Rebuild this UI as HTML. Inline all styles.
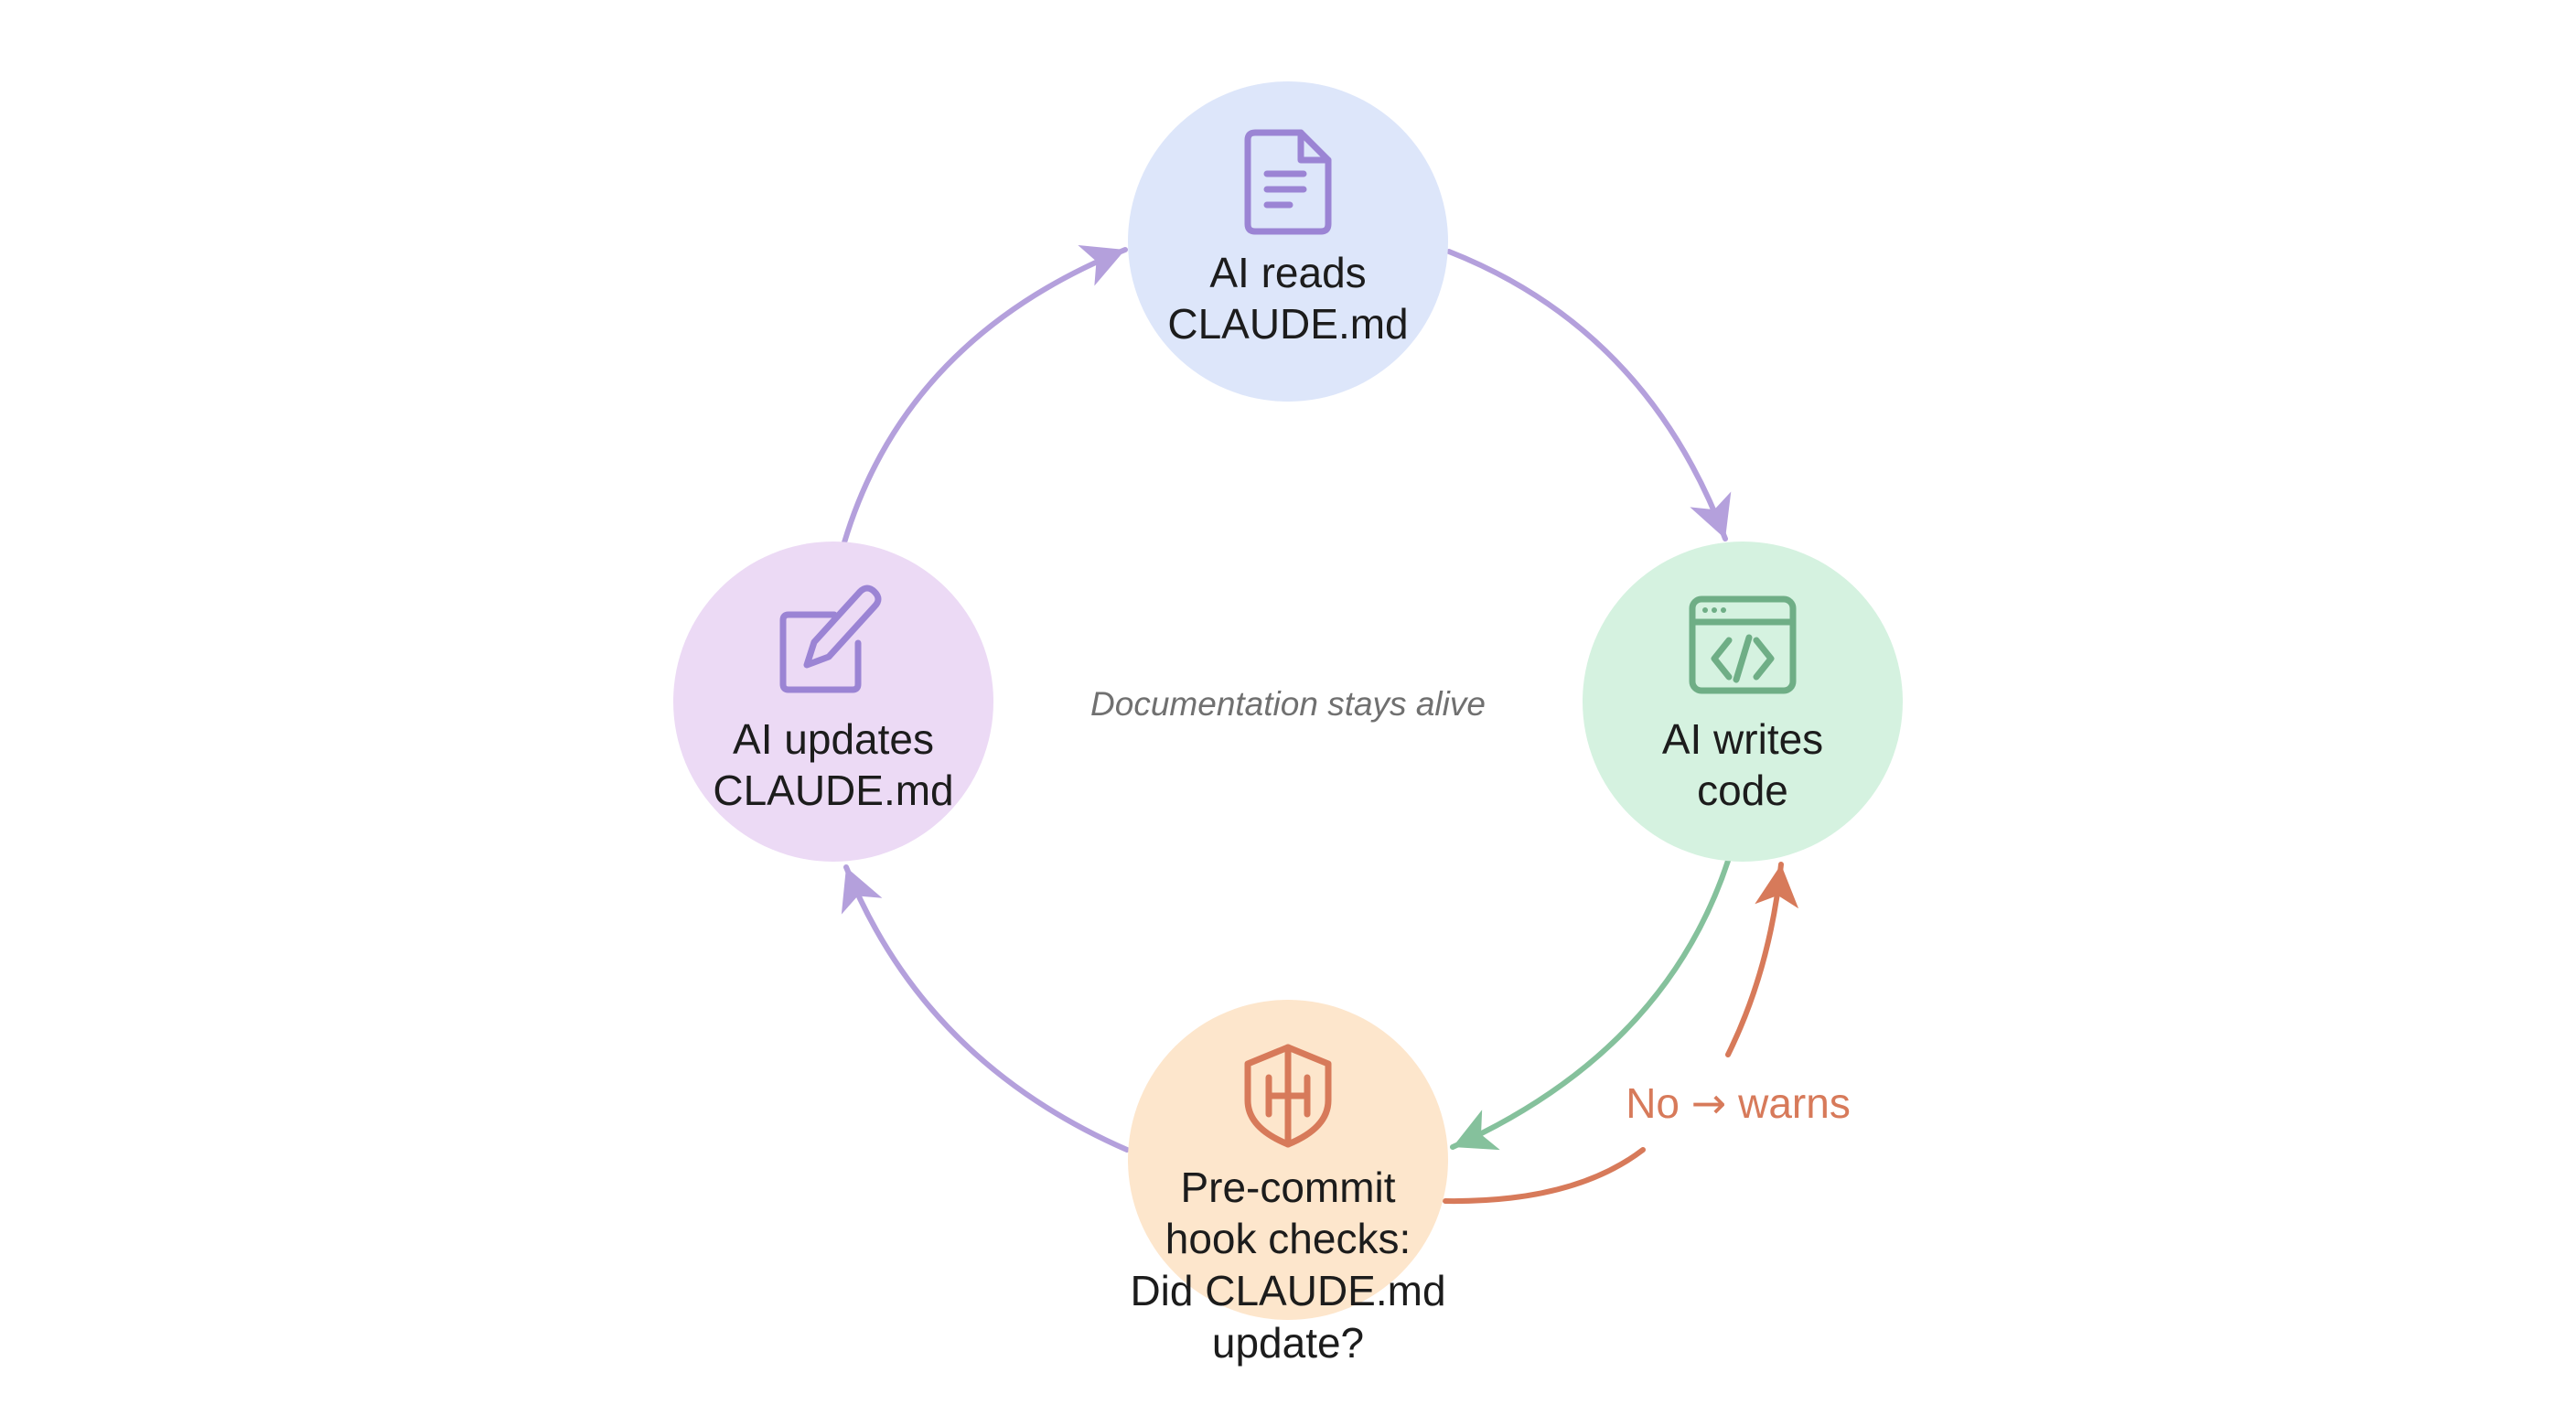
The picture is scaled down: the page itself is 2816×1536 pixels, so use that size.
<!DOCTYPE html>
<html><head><meta charset="utf-8"><style>
html,body{margin:0;padding:0;background:#fff;}
svg{display:block;}
text{font-family:"Liberation Sans",sans-serif;}
</style></head><body>
<svg width="2816" height="1536" viewBox="0 0 2816 1536" xmlns="http://www.w3.org/2000/svg">
<defs>
<marker id="ap" markerUnits="userSpaceOnUse" markerWidth="52" markerHeight="52" refX="46" refY="24" orient="auto"><path d="M0,0 L46,24 L0,48 L12,24 Z" fill="#b4a0dc"/></marker>
<marker id="ag" markerUnits="userSpaceOnUse" markerWidth="52" markerHeight="52" refX="46" refY="24" orient="auto"><path d="M0,0 L46,24 L0,48 L12,24 Z" fill="#85c19c"/></marker>
<marker id="ar" markerUnits="userSpaceOnUse" markerWidth="52" markerHeight="52" refX="46" refY="24" orient="auto"><path d="M0,0 L46,24 L0,48 L12,24 Z" fill="#d77a5a"/></marker>
</defs>
<rect width="2816" height="1536" fill="#fff"/>
<g fill="none" stroke-width="6" stroke-linecap="round">
<path d="M1584,275 Q1800,360 1886,589" stroke="#b4a0dc" marker-end="url(#ap)"/>
<path d="M923,593 Q990,370 1230,273" stroke="#b4a0dc" marker-end="url(#ap)"/>
<path d="M1889,941 Q1820,1150 1588,1254" stroke="#85c19c" marker-end="url(#ag)"/>
<path d="M1232,1257 Q1010,1160 925,948" stroke="#b4a0dc" marker-end="url(#ap)"/>
<path d="M1580,1313 Q1720,1315 1796,1257" stroke="#d77a5a"/>
<path d="M1889,1153 Q1935,1060 1947,945" stroke="#d77a5a" marker-end="url(#ar)"/>
</g>
<circle cx="1408" cy="264" r="175" fill="#dde6fa"/>
<circle cx="911" cy="767" r="175" fill="#ecdaf5"/>
<circle cx="1905" cy="767" r="175" fill="#d5f2e0"/>
<circle cx="1408" cy="1268" r="175" fill="#fde6cc"/>
<g fill="none" stroke="#9b84d4" stroke-width="7" stroke-linejoin="round" stroke-linecap="round">
<path d="M1372,145 h50 l30,30 v70 q0,8 -8,8 h-72 q-8,0 -8,-8 v-92 q0,-8 8,-8 z"/>
<path d="M1422,145 v30 h30"/>
<path d="M1385,190 h40 M1385,207 h40 M1385,224 h25"/>
</g>
<g fill="none" stroke="#9b84d4" stroke-width="7" stroke-linejoin="round" stroke-linecap="round">
<path d="M912,672 h-50 q-6,0 -6,6 v70 q0,6 6,6 h70 q6,0 6,-6 v-45"/>
<path d="M882,727 l8,-25 l50,-55 q8,-8 16,0 q8,8 0,16 l-50,55 z"/>
</g>
<g fill="none" stroke="#6fae86" stroke-width="7" stroke-linejoin="round" stroke-linecap="round">
<rect x="1850" y="655" width="110" height="100" rx="10"/>
<path d="M1850,680 h110"/>
<path d="M1890,700 l-16,20 l16,20 M1920,700 l16,20 l-16,20 M1912,697 l-14,46"/>
</g>
<g fill="#6fae86"><circle cx="1864" cy="667" r="3"/><circle cx="1874" cy="667" r="3"/><circle cx="1884" cy="667" r="3"/></g>
<g fill="none" stroke="#d77a5a" stroke-width="7" stroke-linejoin="round" stroke-linecap="round">
<path d="M1408,1145 l-44,18 v40 q0,30 44,48 q44,-18 44,-48 v-40 z"/>
<path d="M1387,1178 v40 M1429,1178 v40 M1387,1198 h42 M1408,1145 v106"/>
</g>
<g font-size="46" fill="#1c1c1c" text-anchor="middle">
<text x="1408" y="314">AI reads</text>
<text x="1408" y="370">CLAUDE.md</text>
<text x="911" y="824">AI updates</text>
<text x="911" y="880">CLAUDE.md</text>
<text x="1905" y="824">AI writes</text>
<text x="1905" y="880">code</text>
<text x="1408" y="1314">Pre-commit</text>
<text x="1408" y="1370">hook checks:</text>
<text x="1408" y="1427">Did CLAUDE.md</text>
<text x="1408" y="1484">update?</text>
</g>
<text x="1408" y="782" font-size="37" font-style="italic" fill="#707070" text-anchor="middle">Documentation stays alive</text>
<text x="1900" y="1222" font-size="46" fill="#d77a5a" text-anchor="middle">No <tspan font-family="DejaVu Sans, sans-serif">→</tspan> warns</text>
</svg>
</body></html>
